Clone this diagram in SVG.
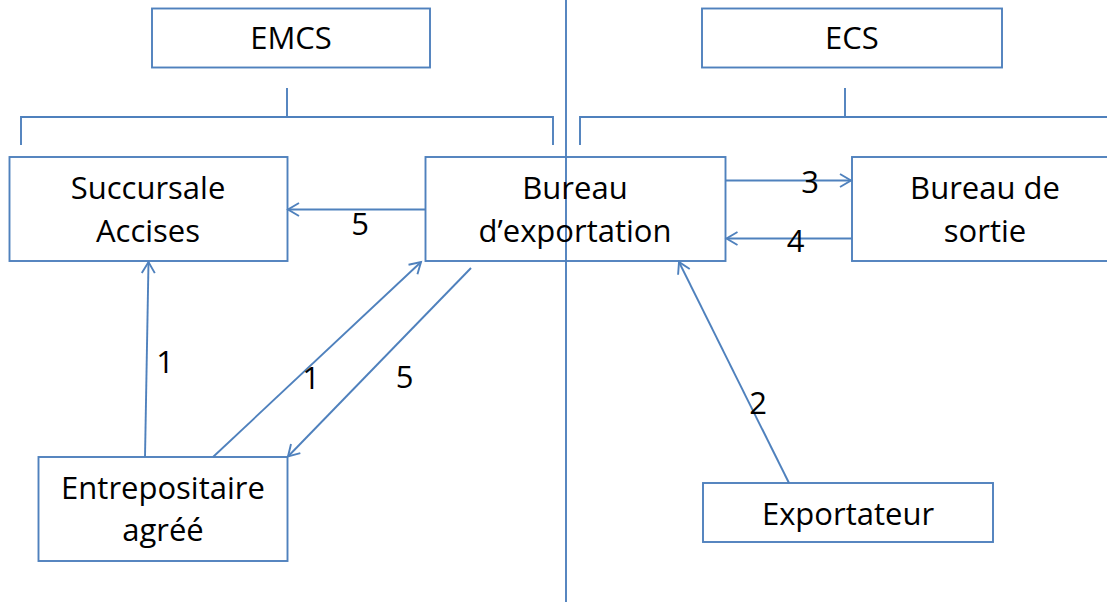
<svg xmlns="http://www.w3.org/2000/svg" width="1107" height="602" viewBox="0 0 1107 602">
<style>
.box{fill:none;stroke:#4F81BD;stroke-width:1.9}
.ln{fill:none;stroke:#4F81BD;stroke-width:1.9}
.arr{fill:none;stroke:#4F81BD;stroke-width:1.9;marker-end:url(#ah)}
text{font-family:"Open Sans","Liberation Sans",sans-serif;font-size:31px;fill:#000;text-anchor:middle}
</style>
<defs>
<marker id="ah" markerUnits="userSpaceOnUse" markerWidth="16" markerHeight="16" viewBox="-12 -8 14 16" refX="0" refY="0" orient="auto">
<path d="M-11,-6.5 L0,0 L-11,6.5" fill="none" stroke="#4F81BD" stroke-width="1.9"/>
</marker>
</defs>
<rect width="1107" height="602" fill="#fff"/>
<g id="divider"><line class="ln" x1="566" y1="0" x2="566" y2="602"/></g>
<g id="brackets">
<polyline class="ln" points="21,145 21,117 553,117 553,145"/>
<line class="ln" x1="287" y1="88" x2="287" y2="117"/>
<polyline class="ln" points="580,145 580,117 1107,117"/>
<line class="ln" x1="845" y1="88" x2="845" y2="117"/>
</g>
<g id="emcs"><rect class="box" x="152" y="8.5" width="278" height="59"/><text x="291" y="49">EMCS</text></g>
<g id="ecs"><rect class="box" x="702" y="8.5" width="300" height="59"/><text x="852" y="49">ECS</text></g>
<g id="succursale"><rect class="box" x="9.5" y="157" width="278" height="104"/><text x="148" y="199">Succursale</text><text x="148" y="242">Accises</text></g>
<g id="bureau-export"><rect class="box" x="425.5" y="157" width="300" height="104"/><text x="575" y="199">Bureau</text><text x="575" y="242">d’exportation</text></g>
<g id="bureau-sortie"><rect class="box" x="852" y="157" width="266" height="104"/><text x="985" y="199">Bureau de</text><text x="985" y="242">sortie</text></g>
<g id="entrepositaire"><rect class="box" x="38.5" y="457" width="249" height="104"/><text x="163" y="499">Entrepositaire</text><text x="163" y="541">agréé</text></g>
<g id="exportateur"><rect class="box" x="703" y="483" width="290" height="59"/><text x="848" y="525">Exportateur</text></g>
<g id="connectors">
<line class="arr" x1="425.5" y1="209.5" x2="288" y2="209.5"/>
<line class="arr" x1="725.5" y1="180.5" x2="851" y2="180.5"/>
<line class="arr" x1="852" y1="238.5" x2="726.5" y2="238.5"/>
<line class="arr" x1="145" y1="457" x2="148.5" y2="262"/>
<line class="arr" x1="213" y1="457" x2="421" y2="262"/>
<line class="arr" x1="471" y1="268" x2="288" y2="456.5"/>
<line class="arr" x1="789" y1="483" x2="679" y2="262"/>
</g>
<g id="labels">
<text x="360" y="235">5</text>
<text x="810" y="193">3</text>
<text x="795.5" y="252">4</text>
<text x="165" y="372.5">1</text>
<text x="311" y="389">1</text>
<text x="404.5" y="388">5</text>
<text x="758" y="414">2</text>
</g>
</svg>
